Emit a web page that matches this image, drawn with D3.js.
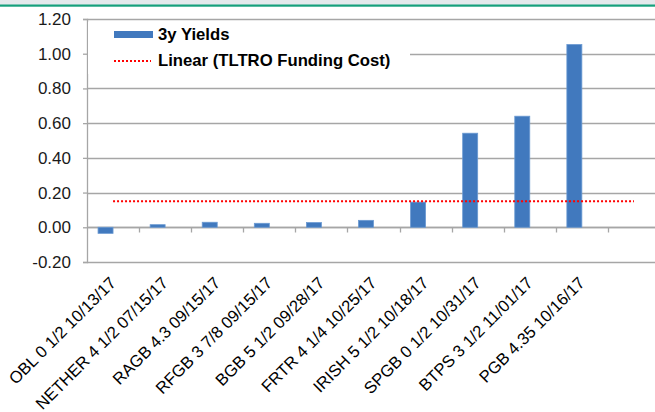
<!DOCTYPE html>
<html>
<head>
<meta charset="utf-8">
<script src="https://cdn.jsdelivr.net/npm/d3@7"></script>
<style>
  body { margin: 0; background: #fff; }
  svg { display: block; font-family: "Liberation Sans", Arial, sans-serif; }
</style>
</head>
<body>
<svg class="chart"></svg>
<script>
let categories = ["OBL 0 1/2 10/13/17", "NETHER 4 1/2 07/15/17", "RAGB 4.3 09/15/17",
  "RFGB 3 7/8 09/15/17", "BGB 5 1/2 09/28/17", "FRTR 4 1/4 10/25/17",
  "IRISH 5 1/2 10/18/17", "SPGB 0 1/2 10/31/17", "BTPS 3 1/2 11/01/17", "PGB 4.35 10/16/17"];
let yields = [-0.035, 0.015, 0.029, 0.023, 0.027, 0.04, 0.145, 0.542, 0.64, 1.053];
let fundingCost = [0.15, 0.15, 0.15, 0.15, 0.15, 0.15, 0.15, 0.15, 0.15, 0.15];
let yTicks = [-0.2, 0, 0.2, 0.4, 0.6, 0.8, 1.0, 1.2];

let svgWidth = 655, svgHeight = 412;
let plotLeft = 87, plotRight = 660, plotTop = 19, plotBottom = 262;
let slots = categories.length + 1; // one empty slot for the trendline forecast

let svg = d3.select('.chart')
  .attr("width", svgWidth)
  .attr("height", svgHeight);

// header band
svg.append("rect").attr("x", 0).attr("y", 0).attr("width", svgWidth).attr("height", 5).attr("fill", "#e4e9ec");
svg.append("rect").attr("x", 0).attr("y", 4.5).attr("width", svgWidth).attr("height", 2.2).attr("fill", "#16a07c");

let x = d3.scaleBand()
  .domain(d3.range(slots))
  .range([plotLeft, plotRight]);

let y = d3.scaleLinear()
  .domain([d3.min(yTicks), d3.max(yTicks)])
  .range([plotBottom, plotTop]);

let center = i => x(i) + x.bandwidth() / 2;

// gridlines
svg.append("g")
  .selectAll("line")
  .data(yTicks)
  .enter()
  .append("line")
  .attr("x1", plotLeft)
  .attr("x2", plotRight)
  .attr("y1", d => Math.round(y(d)) + 0.5)
  .attr("y2", d => Math.round(y(d)) + 0.5)
  .attr("stroke", "#a6a6a6")
  .attr("stroke-width", 1.3);

// y axis
let yAxis = svg.append("g")
  .attr("transform", "translate(" + plotLeft + ",0)")
  .call(d3.axisLeft(y).tickValues(yTicks).tickSize(4).tickPadding(12)
    .tickFormat(d => d.toFixed(2)));
yAxis.select(".domain").attr("stroke", "#a6a6a6").attr("stroke-width", 1.3);
yAxis.selectAll(".tick line").attr("stroke", "#a6a6a6").attr("stroke-width", 1.3);
yAxis.selectAll("text").attr("font-size", "17px").attr("fill", "#1a1a1a")
  .attr("font-family", "Liberation Sans, Arial, sans-serif");

// x axis at zero with ticks between categories
let zeroY = Math.round(y(0)) + 0.5;
svg.append("line")
  .attr("x1", plotLeft).attr("x2", plotRight)
  .attr("y1", zeroY).attr("y2", zeroY)
  .attr("stroke", "#a6a6a6").attr("stroke-width", 1.3);
svg.append("g")
  .selectAll("line")
  .data(d3.range(1, slots))
  .enter()
  .append("line")
  .attr("x1", d => Math.round(x(d)) + 0.5)
  .attr("x2", d => Math.round(x(d)) + 0.5)
  .attr("y1", zeroY)
  .attr("y2", zeroY + 5)
  .attr("stroke", "#a6a6a6").attr("stroke-width", 1.3);

// category labels below the plot
let xAxis = svg.append("g")
  .attr("transform", "translate(0," + plotBottom + ")")
  .call(d3.axisBottom(x).tickSize(0).tickFormat(i => categories[i] || ""));
xAxis.select(".domain").remove();
xAxis.selectAll("text")
  .attr("x", 0).attr("y", 0).attr("dy", 0)
  .attr("transform", "translate(4,22) rotate(-45)")
  .attr("text-anchor", "end")
  .attr("font-size", "16.6px")
  .attr("fill", "#000")
  .attr("font-family", "Liberation Sans, Arial, sans-serif");

// bars (left half of a two-series cluster)
let barWidth = 15;
svg.append("g")
  .selectAll("rect")
  .data(yields)
  .enter()
  .append("rect")
  .attr("x", (d, i) => center(i) - barWidth)
  .attr("y", d => y(Math.max(0, d)))
  .attr("width", barWidth)
  .attr("height", d => Math.abs(y(d) - y(0)))
  .attr("fill", "#4179be")
  .attr("stroke", "#6b9ad2")
  .attr("stroke-width", 0.8);

// linear trendline of the funding cost, forecast one period forward
let n = fundingCost.length;
let mx = d3.mean(d3.range(n)), my = d3.mean(fundingCost);
let sxx = d3.sum(d3.range(n), i => (i - mx) * (i - mx));
let slope = d3.sum(d3.range(n), i => (i - mx) * (fundingCost[i] - my)) / sxx;
let intercept = my - slope * mx;
let trend = [0, n].map(i => [center(i), y(intercept + slope * i)]);
svg.append("path")
  .attr("d", d3.line()(trend))
  .attr("fill", "none")
  .attr("stroke", "#ff0000")
  .attr("stroke-width", 2)
  .attr("stroke-dasharray", "2,2");

// legend
let legend = svg.append("g");
legend.append("rect").attr("x", plotLeft + 1).attr("y", 22).attr("width", 322).attr("height", 52).attr("fill", "#fff");
legend.append("rect").attr("x", 114).attr("y", 31).attr("width", 39).attr("height", 7).attr("fill", "#4179be");
legend.append("text").attr("x", 158).attr("y", 39.5).text("3y Yields")
  .attr("font-size", "16.7px").attr("font-weight", "bold");
legend.append("line").attr("x1", 114).attr("x2", 151).attr("y1", 61).attr("y2", 61)
  .attr("stroke", "#ff0000").attr("stroke-width", 2).attr("stroke-dasharray", "2,2");
legend.append("text").attr("x", 158).attr("y", 65.5).text("Linear (TLTRO Funding Cost)")
  .attr("font-size", "16.7px").attr("font-weight", "bold");
</script>
</body>
</html>
